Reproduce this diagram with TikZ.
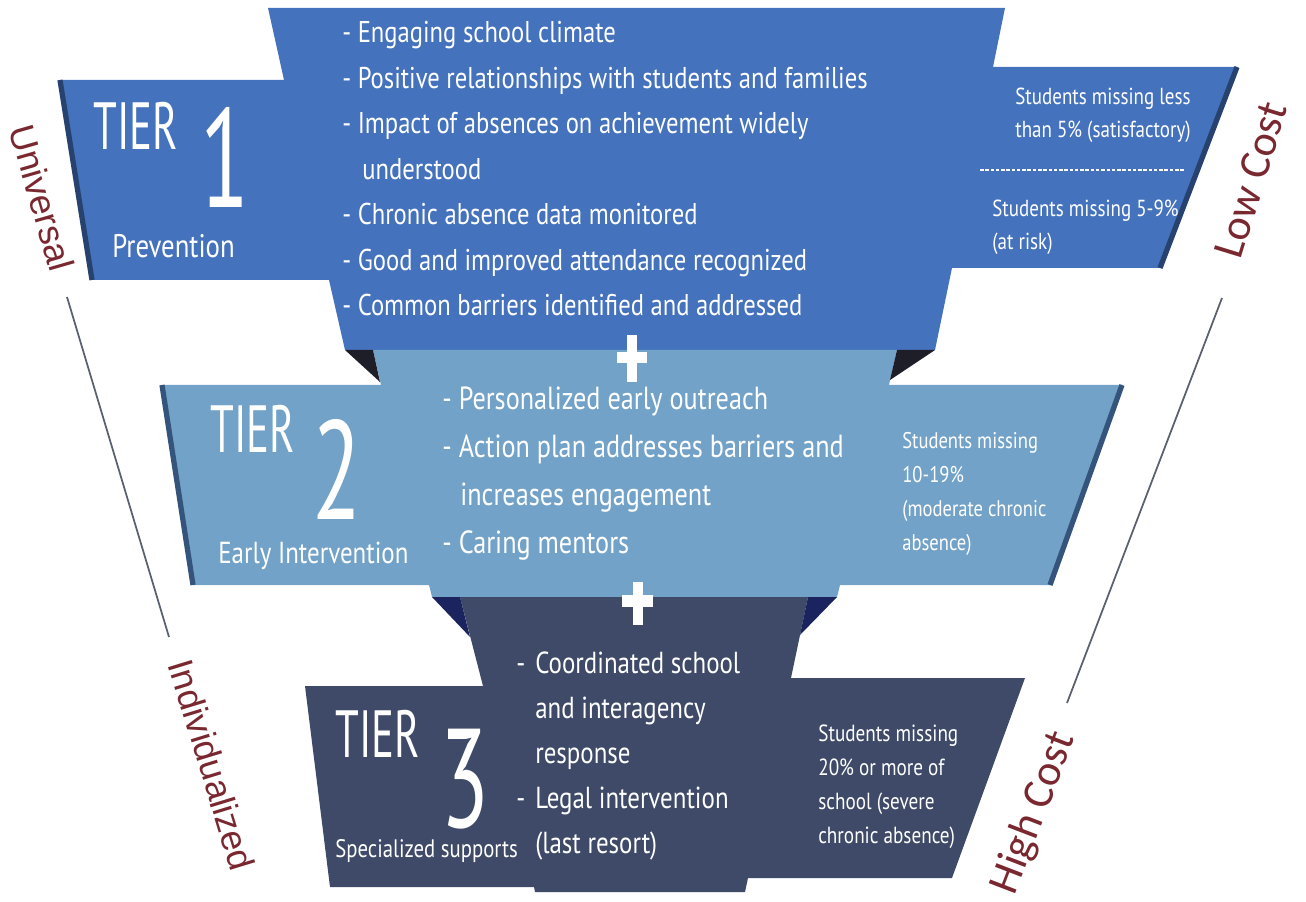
\documentclass[tikz,border=0pt]{standalone}
\usepackage{fontspec}
\setmainfont[FakeStretch=0.82]{PT Sans}
\newfontfamily\tierfont[FakeStretch=0.64]{PT Sans}
\newfontfamily\sidefont{Liberation Sans}
\newfontfamily\costfont{Carlito}
\usetikzlibrary{calc}
\definecolor{tierone}{RGB}{68,114,188}
\definecolor{tiertwo}{RGB}{114,162,200}
\definecolor{tierthree}{RGB}{62,74,104}
\definecolor{shadeone}{RGB}{30,30,40}
\definecolor{shadetwo}{RGB}{28,36,96}
\definecolor{rimone}{RGB}{40,66,112}
\definecolor{rimtwo}{RGB}{52,84,124}
\definecolor{sidered}{RGB}{122,40,48}
\definecolor{sideline}{RGB}{90,96,112}
\newcommand\fsz[2]{\fontsize{#1}{#2}\selectfont}

\begin{document}
\begin{tikzpicture}[x=0.02cm,y=-0.02cm,
    txt/.style={text=white,inner sep=0pt,anchor=base west,align=left},
    tier/.style={text=white,inner sep=0pt,anchor=base west,font=\tierfont\fsz{38}{38}},
    num/.style={text=white,inner sep=0pt,anchor=base,font=\tierfont\fsz{80}{80}},
    side/.style={text=sidered,inner sep=0pt,font=\sidefont\fsz{20.5}{20.5}},
    cost/.style={text=sidered,inner sep=0pt,font=\costfont\fsz{25}{25}},
    rim/.style={line width=3pt}]
    \useasboundingbox (0,0) rectangle (1306,902);
    % tier panels
    \fill[tierone] (268,8) -- (1005,8) -- (993,67) -- (1237,67) -- (1160,268) -- (952,268)
        -- (935,350) -- (345,350) -- (329,280) -- (92,280) -- (60,80) -- (284,80) -- cycle;
    \fill[tiertwo] (373,350) -- (897,350) -- (889,385) -- (1122,385) -- (1050,585) -- (840,585)
        -- (837,597) -- (432,597) -- (429,585) -- (193,585) -- (162,385) -- (381,385) -- cycle;
    \fill[tierthree] (460,597) -- (808,597) -- (791,678) -- (1025,678) -- (952,878) -- (748,878)
        -- (745,892) -- (535,892) -- (534,887) -- (330,887) -- (305,686) -- (483,686) -- cycle;
    % dark sides
    \fill[shadeone] (345,350) -- (373,350) -- (380,382) -- cycle;
    \fill[shadeone] (897,350) -- (935,350) -- (890,380) -- cycle;
    \fill[shadetwo] (432,597) -- (460,597) -- (470,637) -- cycle;
    \fill[shadetwo] (808,597) -- (837,597) -- (800,635) -- cycle;
    \draw[rimone,rim] (60,80) -- (92,280);
    \draw[rimone,rim] (1237,67) -- (1160,268);
    \draw[rimtwo,rim] (162,385) -- (193,585);
    \draw[rimtwo,rim] (1122,385) -- (1050,585);
    % plus signs
    \fill[white] (627,335) rectangle (637,382);
    \fill[white] (617,352) rectangle (647,363);
    \fill[white] (633,582) rectangle (643,625);
    \fill[white] (622,595) rectangle (653,607);

    % tier 1 (multi-line nodes sit on their last line)
    \node[tier] (tierA) at (93,150) {TIER};
    \node[num] (numA) at (225,208) {1};
    \node[txt,font=\fsz{18.6}{18.6}] (nameA) at (112,258) {Prevention};
    \node[txt,font=\fsz{17.1}{25.9}] (listA) at (342,316) {- Engaging school climate\\- Positive relationships with students and families\\- Impact of absences on achievement widely\\\hspace*{.4cm}understood\\- Chronic absence data monitored\\- Good and improved attendance recognized\\- Common barriers identified and addressed};
    \node[txt,font=\fsz{13.2}{18.8}] (rateA) at (1015,138) {Students missing less\\than 5\% (satisfactory)};
    \node[txt,font=\fsz{13.2}{18.8}] (riskA) at (992,250) {Students missing 5-9\%\\(at risk)};
    \coordinate (dashL) at (980,170);
    \coordinate (dashR) at (1185,170);
    \draw[white,dashed,dash pattern=on 2pt off 1pt,line width=0.6pt] (dashL) -- (dashR);

    % tier 2
    \node[tier] (tierB) at (210,453) {TIER};
    \node[num] (numB) at (337,520) {2};
    \node[txt,font=\fsz{17.3}{17.3}] (nameB) at (218,563) {Early Intervention};
    \node[txt,font=\fsz{18.2}{27.2}] (listB) at (442,553) {- Personalized early outreach\\- Action plan addresses barriers and\\\hspace*{.36cm}increases engagement\\- Caring mentors};
    \node[txt,font=\fsz{12.9}{19.3}] (rateB) at (902,550) {Students missing\\10-19\%\\(moderate chronic\\absence)};

    % tier 3
    \node[tier] (tierC) at (335,757) {TIER};
    \node[num] (numC) at (465,827) {3};
    \node[txt,font=\fsz{14.4}{14.4}] (nameC) at (335,857) {Specialized supports};
    \node[txt,font=\fsz{17.3}{25.6}] (listC) at (535,853) {\llap{-\hspace{.2cm}}Coordinated school\\and interagency\\response\\\llap{-\hspace{.2cm}}Legal intervention\\(last resort)};
    \node[txt,font=\fsz{13.3}{19.3}] (rateC) at (818,843) {Students missing\\20\% or more of\\school (severe\\chronic absence)};

    % side scales
    \coordinate (uniTop) at (67,297);
    \coordinate (uniBot) at (169,637);
    \coordinate (costTop) at (1222,298);
    \coordinate (costBot) at (1067,703);
    \draw[sideline,line width=1pt] (uniTop) -- (uniBot);
    \draw[sideline,line width=1pt] (costTop) -- (costBot);
    \node[side,rotate=-74] (universal) at (42,198) {Universal};
    \node[side,rotate=-73] (individual) at (212,765) {Individualized};
    \node[cost,rotate=73] (lowCost) at (1251,180) {Low Cost};
    \node[cost,rotate=69] (highCost) at (1034,813) {High Cost};
\end{tikzpicture}
\end{document}
